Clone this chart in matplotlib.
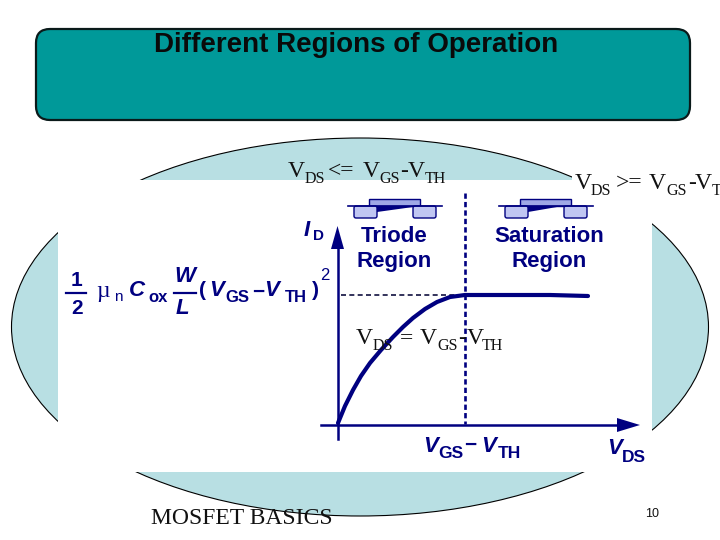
import matplotlib
matplotlib.use('Agg')
import matplotlib.pyplot as plt
from matplotlib.patches import Ellipse, FancyBboxPatch, Rectangle, Polygon

# curve (pixels)
curve_x = [338, 345, 353, 361, 370, 381, 393, 403, 413, 425, 437, 450, 465, 500, 550, 588]
curve_y = [423, 406, 390, 376, 363, 350, 337, 327, 318, 309, 302, 297, 295, 295, 295, 296]

navy = '#000080'
ink = '#111111'
serif = 'Liberation Serif'
sans = 'Liberation Sans'

fig = plt.figure(figsize=(7.2, 5.4), dpi=100)
ax = fig.add_axes([0, 0, 1, 1])
ax.set_xlim(0, 720)
ax.set_ylim(540, 0)
ax.axis('off')

# title bar
ax.add_patch(FancyBboxPatch((36, 29), 654, 91, boxstyle='round,pad=0,rounding_size=14',
                            fc='#009999', ec='#0a1a1a', lw=1.6))
ax.text(356, 52, 'Different Regions of Operation', family=sans, weight='bold', fontsize=20,
        ha='center', va='baseline', color='#0a0a0a')

# ellipse with the white picture boxes over it
ax.add_patch(Ellipse((360, 327), 697, 378, fc='#b8dfe3', ec='black', lw=0.8))
ax.add_patch(Rectangle((58, 180), 594, 292, fc='white', ec='none'))
ax.add_patch(Rectangle((572, 168), 148, 55, fc='white', ec='none'))

# axes of the graph
ax.plot([338, 338], [246, 439], color=navy, lw=1.8)
ax.add_patch(Polygon([[337.5, 226], [331, 249], [344, 249]], fc=navy, ec='none'))
ax.plot([321, 620], [425, 425], color=navy, lw=1.8)
ax.add_patch(Polygon([[640, 425], [617, 418], [617, 432]], fc=navy, ec='none'))

# dashed guides
ax.plot([465, 465], [193, 424], color=navy, lw=1.9, ls=(0, (2, 1.2)))
ax.plot([341, 465], [295, 295], color='#101040', lw=1.2, ls=(0, (3, 2)))

# curve
ax.plot(curve_x, curve_y, color=navy, lw=3, solid_capstyle='round', solid_joinstyle='round')

# transistor sketches
for x0, apex in [(0, 413), (151, 557)]:
    ax.plot([348 + x0, 442 + x0], [206, 206], color=navy, lw=1.2)
    ax.add_patch(Rectangle((369 + x0, 199), 51, 7, fc='#9fa8e6', ec=navy, lw=1))
    ax.add_patch(FancyBboxPatch((354 + x0, 206), 23, 12, boxstyle='round,pad=0,rounding_size=2',
                                fc='#c0c6f2', ec=navy, lw=1))
    ax.add_patch(FancyBboxPatch((413 + x0, 206), 23, 12, boxstyle='round,pad=0,rounding_size=2',
                                fc='#c0c6f2', ec=navy, lw=1))
    ax.add_patch(Polygon([[377 + x0, 207], [apex, 207], [377 + x0, 212]], fc=navy, ec='none'))

# graph labels
def blue(x, y, s, size=16, style='normal'):
    ax.text(x, y, s, family=sans, weight='bold', style=style, fontsize=size, color=navy,
            ha='center', va='center')

blue(394, 236, 'Triode')
blue(394, 262, 'Region')
blue(549, 236, 'Saturation')
blue(549, 262, 'Region')
blue(307, 230, 'I', 16, 'italic')
blue(318, 236, 'D', 11)

# formula
blue(77, 280, '1', 15)
blue(77, 309, '2', 15)
ax.plot([66, 86], [293, 293], color=navy, lw=1.6)
ax.text(103, 291, 'µ', family=serif, fontsize=17, color=navy, ha='center', va='center')
ax.text(118, 297, 'n', family=sans, fontsize=11, color=navy, ha='center', va='center')
blue(137, 291, 'C', 16, 'italic')
blue(158, 297, 'ox', 12)
blue(185, 277, 'W', 16, 'italic')
blue(182, 308, 'L', 16, 'italic')
ax.plot([174, 196], [293, 293], color=navy, lw=1.6)
blue(203, 291, '(', 15)
blue(217, 291, 'V', 16, 'italic')
blue(237, 297, 'GS', 12)
blue(258, 292, '\u2212', 15)
blue(272, 291, 'V', 16, 'italic')
blue(296, 297, 'TH', 12)
blue(315, 291, ')', 15)
ax.text(325, 275, '2', family=sans, fontsize=12, color=navy, ha='center', va='center')

# axis labels
blue(431, 446, 'V', 16, 'italic')
blue(451, 453, 'GS', 12.5)
blue(470, 445, '\u2212', 15)
blue(489, 446, 'V', 16, 'italic')
blue(509, 453, 'TH', 12.5)
blue(615, 449, 'V', 16, 'italic')
blue(634, 458, 'DS', 12.5)

# serif condition labels
def cond(x, y, parts):
    for s, big, dx in parts:
        ax.text(x + dx, y if big else y + 6, s, family=serif, fontsize=17 if big else 11.5,
                color=ink, ha='left', va='baseline')

cond(288, 177, [('V', True, 0), ('DS', False, 17), ('<=', True, 40), ('V', True, 75),
                ('GS', False, 91), ('-', True, 112), ('V', True, 120), ('TH', False, 137)])
cond(575, 189, [('V', True, 0), ('DS', False, 16), ('>=', True, 41), ('V', True, 74),
                ('GS', False, 91), ('-', True, 113), ('V', True, 120), ('T', False, 137)])
cond(356, 344, [('V', True, 0), ('DS', False, 17), ('=', True, 44), ('V', True, 64),
                ('GS', False, 81), ('-', True, 102), ('V', True, 111), ('TH', False, 126)])

ax.text(151, 524, 'MOSFET BASICS', family=serif, fontsize=17, color=ink, ha='left', va='baseline')
ax.text(652, 514, '10', family=sans, fontsize=9, color=ink, ha='center', va='center')

fig.savefig('out.png', dpi=100)
